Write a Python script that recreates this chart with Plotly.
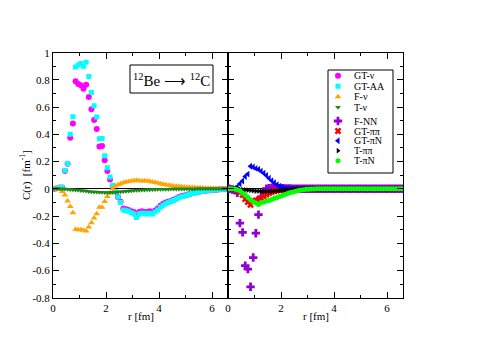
import plotly.graph_objects as go

# radial grid [fm]
r = [0.05, 0.15, 0.25, 0.35, 0.45, 0.55, 0.65, 0.75, 0.85, 0.95,
     1.05, 1.15, 1.25, 1.35, 1.45, 1.55, 1.65, 1.75, 1.85, 1.95,
     2.05, 2.15, 2.25, 2.35, 2.45, 2.55, 2.65, 2.75, 2.85, 2.95,
     3.05, 3.15, 3.25, 3.35, 3.45, 3.55, 3.65, 3.75, 3.85, 3.95,
     4.05, 4.15, 4.25, 4.35, 4.45, 4.55, 4.65, 4.75, 4.85, 4.95,
     5.05, 5.15, 5.25, 5.35, 5.45, 5.55, 5.65, 5.75, 5.85, 5.95,
     6.05, 6.15, 6.25, 6.35, 6.45, 6.55]

# left panel
gt_v = [0.0, 0.005, 0.01, 0.01, 0.13, 0.185, 0.375, 0.48, 0.79, 0.77,
        0.76, 0.735, 0.765, 0.675, 0.585, 0.505, 0.44, 0.31, 0.315, 0.21,
        0.13, 0.068, 0.02, -0.02, -0.06, -0.095, -0.145, -0.15, -0.155, -0.165,
        -0.17, -0.2, -0.17, -0.165, -0.17, -0.17, -0.165, -0.17, -0.16, -0.145,
        -0.125, -0.11, -0.1, -0.095, -0.088, -0.08, -0.072, -0.06, -0.053, -0.05,
        -0.045, -0.038, -0.033, -0.028, -0.025, -0.02, -0.017, -0.014, -0.012, -0.01,
        -0.008, -0.006, -0.005, -0.004, -0.003, -0.002]
gt_aa = [0.0, 0.005, 0.01, 0.01, 0.135, 0.186, 0.40, 0.53, 0.895, 0.91,
         0.92, 0.90, 0.93, 0.825, 0.71, 0.61, 0.527, 0.367, 0.37, 0.243,
         0.154, 0.086, 0.027, -0.02, -0.06, -0.1, -0.155, -0.16, -0.165, -0.175,
         -0.185, -0.21, -0.185, -0.18, -0.18, -0.185, -0.18, -0.185, -0.17, -0.155,
         -0.135, -0.12, -0.11, -0.1, -0.092, -0.085, -0.075, -0.065, -0.058, -0.052,
         -0.047, -0.04, -0.035, -0.03, -0.026, -0.022, -0.018, -0.015, -0.012, -0.01,
         -0.008, -0.006, -0.005, -0.004, -0.003, -0.002]
f_v = [0.0, 0.0, -0.005, -0.02, -0.045, -0.09, -0.13, -0.175, -0.297, -0.3,
       -0.3, -0.305, -0.31, -0.28, -0.25, -0.215, -0.184, -0.135, -0.135, -0.093,
       -0.056, -0.03, 0.0, 0.02, 0.03, 0.037, 0.045, 0.05, 0.053, 0.058,
       0.06, 0.063, 0.06, 0.058, 0.06, 0.058, 0.055, 0.05, 0.046, 0.042,
       0.037, 0.033, 0.03, 0.027, 0.024, 0.021, 0.019, 0.017, 0.015, 0.013,
       0.012, 0.011, 0.01, 0.009, 0.008, 0.007, 0.006, 0.005, 0.005, 0.004,
       0.004, 0.003, 0.003, 0.002, 0.002, 0.002]
t_v = [0.0, 0.0, 0.0, -0.001, -0.002, -0.003, -0.005, -0.007, -0.009, -0.011,
       -0.013, -0.015, -0.017, -0.019, -0.021, -0.023, -0.024, -0.025, -0.026, -0.027,
       -0.027, -0.027, -0.026, -0.025, -0.024, -0.022, -0.02, -0.018, -0.016, -0.014,
       -0.012, -0.011, -0.01, -0.009, -0.008, -0.007, -0.006, -0.005, -0.005, -0.004,
       -0.004, -0.003, -0.003, -0.003, -0.002, -0.002, -0.002, -0.002, -0.001, -0.001,
       -0.001, -0.001, -0.001, -0.001, 0.0, 0.0, 0.0, 0.0, 0.0, 0.0,
       0.0, 0.0, 0.0, 0.0, 0.0, 0.0]

# right panel
f_nn = [0.0, -0.005, -0.01, -0.03, -0.252, -0.32, -0.564, -0.59, -0.72, -0.505,
        -0.326, -0.19, -0.06, -0.02, 0.0, 0.005, 0.008, 0.008, 0.006, 0.005,
        0.004, 0.003, 0.002, 0.002, 0.001, 0.001, 0.001, 0.0, 0.0, 0.0] + [0.0] * 36
gt_pipi = [0.0, 0.0, -0.003, -0.01, -0.025, -0.045, -0.075, -0.097, -0.118, -0.09,
           -0.085, -0.08, -0.07, -0.055, -0.042, -0.032, -0.024, -0.018, -0.013, -0.01,
           -0.007, -0.005, -0.003, -0.002, -0.001, 0.0, 0.0, 0.0, 0.0, 0.0] + [0.0] * 36
gt_pin = [0.0, 0.0, 0.003, 0.015, 0.037, 0.057, 0.09, 0.108, 0.166, 0.16,
          0.15, 0.143, 0.13, 0.115, 0.098, 0.078, 0.06, 0.045, 0.03, 0.02,
          0.012, 0.007, 0.004, 0.002, 0.001, 0.0, 0.0, 0.0, 0.0, 0.0] + [0.0] * 36
t_pipi = [0.0, 0.0, -0.001, -0.002, -0.004, -0.006, -0.008, -0.01, -0.012, -0.014,
          -0.016, -0.017, -0.018, -0.019, -0.019, -0.019, -0.018, -0.017, -0.015, -0.013,
          -0.011, -0.009, -0.007, -0.005, -0.004, -0.003, -0.002, -0.001, 0.0, 0.0] + [0.0] * 36
t_pin = [0.0, 0.0, -0.002, -0.006, -0.015, -0.03, -0.045, -0.062, -0.08, -0.095,
         -0.105, -0.115, -0.1, -0.097, -0.09, -0.085, -0.078, -0.07, -0.064, -0.057,
         -0.05, -0.042, -0.035, -0.028, -0.023, -0.018, -0.013, -0.009, -0.006, -0.004,
         -0.003, -0.002, -0.001, 0.0, 0.0, 0.0] + [0.0] * 30

y_ticks = [-0.8, -0.6, -0.4, -0.2, 0, 0.2, 0.4, 0.6, 0.8, 1]
y_labels = ["-0.8", "-0.6", "-0.4", "-0.2", "0", "0.2", "0.4", "0.6", "0.8", "1"]

W, H = 485, 342
FONT = "Liberation Serif"
# plot area in pixels
X0, XM, X1 = 53, 228, 403
YT, YB = 52.7, 297.7
XR = [0, 6.6]
YR = [-0.8, 1]

# name, values, symbol, color, size
left_sets = [
    ("GT-ν", gt_v, "circle", "#ff00ff", 6),
    ("GT-AA", gt_aa, "square", "#00ffff", 5),
    ("F-ν", f_v, "triangle-up", "#ffa500", 6),
    ("T-ν", t_v, "triangle-down", "#1a8a1a", 5),
]
right_sets = [
    ("F-NN", f_nn, "cross", "#9400d3", 7),
    ("GT-ππ", gt_pipi, "x", "#ff0000", 6),
    ("GT-πN", gt_pin, "triangle-left", "#0000ff", 6),
    ("T-ππ", t_pipi, "triangle-right", "#000000", 5),
    ("T-πN", t_pin, "circle", "#00ff00", 5),
]

fig = go.Figure()
for name, vals, sym, col, sz in left_sets:
    fig.add_trace(go.Scatter(x=r, y=vals, mode="markers", name=name, xaxis="x", yaxis="y",
                             marker=dict(symbol=sym, color=col, size=sz, line=dict(width=0))))
for name, vals, sym, col, sz in right_sets:
    fig.add_trace(go.Scatter(x=r, y=vals, mode="markers", name=name, xaxis="x2", yaxis="y2",
                             marker=dict(symbol=sym, color=col, size=sz, line=dict(width=0))))


def px_to_right(px, py):
    # pixel position -> data coords of the right panel (legend lives there)
    xd = XR[0] + (px - XM) / (X1 - XM) * (XR[1] - XR[0])
    yd = YR[1] - (py - YT) / (YB - YT) * (YR[1] - YR[0])
    return xd, yd


def note(px, py, text, size=11, **kw):
    kw.setdefault("xanchor", "center")
    fig.add_annotation(x=px / W, y=1 - py / H, xref="paper", yref="paper",
                       text=text, showarrow=False, yanchor="middle",
                       font=dict(family=FONT, size=size, color="black"), **kw)


# hand-made legend (plotly's own legend rows are too tall here)
leg_x, leg_text_x = 338, 352
leg_rows = [75.7, 86.3, 96.7, 107.3, 121, 131, 140.7, 150.7, 160.7]
for (name, vals, sym, col, sz), yy in zip(left_sets + right_sets, leg_rows):
    lx, ly = px_to_right(leg_x, yy)
    fig.add_trace(go.Scatter(x=[lx], y=[ly], mode="markers", xaxis="x2", yaxis="y2",
                             marker=dict(symbol=sym, color=col, size=sz, line=dict(width=0))))
    note(leg_text_x, yy, name, size=10, xanchor="left")
fig.add_shape(type="rect", xref="paper", yref="paper",
              x0=328 / W, x1=393 / W, y0=1 - 173 / H, y1=1 - 70 / H,
              line=dict(color="black", width=1), fillcolor="rgba(0,0,0,0)")

# reaction label
fig.add_shape(type="rect", xref="paper", yref="paper",
              x0=130 / W, x1=213 / W, y0=1 - 93 / H, y1=1 - 65 / H,
              line=dict(color="black", width=1), fillcolor="rgba(0,0,0,0)")
note(171.5, 80, "<sup>12</sup>Be ⟶ <sup>12</sup>C", size=15)

# axis titles
note(25, 175, "C(r)  [fm<sup>-1</sup>]", textangle=-90)
note(140.5, 316, "r [fm]")
note(315.5, 316, "r [fm]")

ax_common = dict(showline=True, linecolor="black", linewidth=1, mirror="allticks",
                 ticks="inside", ticklen=6, tickcolor="black", showgrid=False,
                 tickfont=dict(family=FONT, size=11, color="black"))
x_minor = dict(ticks="inside", dtick=1, ticklen=3, tickcolor="black")
y_minor = dict(ticks="inside", dtick=0.1, ticklen=3, tickcolor="black")
x_dom_l = [X0 / W, XM / W]
x_dom_r = [XM / W, X1 / W]
y_dom = [1 - YB / H, 1 - YT / H]

fig.update_layout(
    width=W, height=H, margin=dict(l=0, r=0, t=0, b=0, autoexpand=False),
    font=dict(family=FONT, size=11, color="black"),
    paper_bgcolor="white", plot_bgcolor="white", showlegend=False,
    xaxis=dict(domain=x_dom_l, range=XR, anchor="y", dtick=2, tick0=0,
               zeroline=False, minor=x_minor, **ax_common),
    yaxis=dict(domain=y_dom, range=YR, anchor="x", tickmode="array",
               tickvals=y_ticks, ticktext=y_labels,
               zeroline=True, zerolinecolor="black", zerolinewidth=1,
               minor=y_minor, **ax_common),
    xaxis2=dict(domain=x_dom_r, range=XR, anchor="y2", dtick=2, tick0=0,
                zeroline=False, minor=x_minor, **ax_common),
    yaxis2=dict(domain=y_dom, range=YR, anchor="x2", tickmode="array",
                tickvals=y_ticks, showticklabels=False,
                zeroline=True, zerolinecolor="black", zerolinewidth=1,
                minor=y_minor, **ax_common),
)

# drop the browser's default body margin so the figure sits at the page corner
fig.write_html("out.html", config={"displayModeBar": False},
               post_script="document.body.style.margin = '0px';")
